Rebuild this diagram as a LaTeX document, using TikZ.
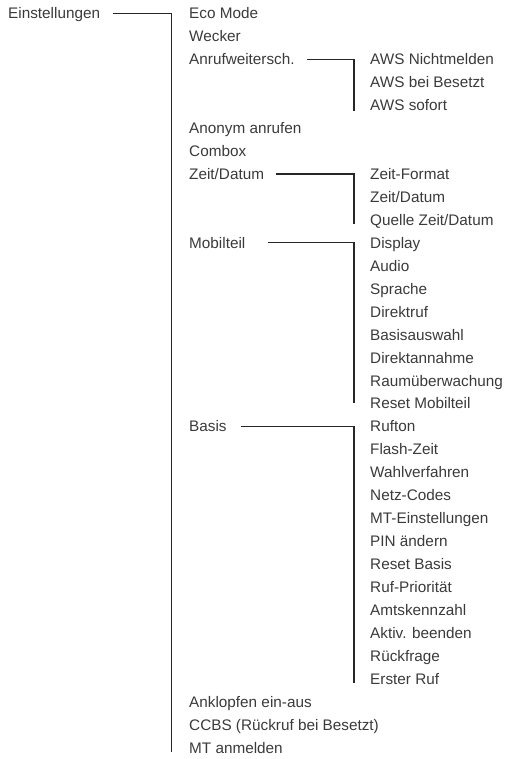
\documentclass[tikz,border=0pt]{standalone}
\usepackage{fontspec}
\setmainfont{Liberation Sans}
\definecolor{menutext}{HTML}{3A3A3A}
\begin{document}
\begin{tikzpicture}[x=1pt,y=-22.95pt,
	menu/.style={anchor=west,inner sep=0,text height=11pt,text depth=0pt,text=menutext,font=\fontsize{15.3}{18}\selectfont},
	branch/.style={line width=1.1pt,draw=black!85}]
		\useasboundingbox (0,-0.58) rectangle (510,32.49);
		% root
		\node[menu] (einst) at (8,0) {Einstellungen};
		% first level
		\node[menu] (eco) at (189,0) {Eco Mode};
		\node[menu] (wecker) at (189,1) {Wecker};
		\node[menu] (anruf) at (189,2) {Anrufweitersch.};
		\node[menu] (anonym) at (189,5) {Anonym anrufen};
		\node[menu] (combox) at (189,6) {Combox};
		\node[menu] (zeit) at (189,7) {Zeit/Datum};
		\node[menu] (mobil) at (189,10) {Mobilteil};
		\node[menu] (basis) at (189,18) {Basis};
		\node[menu] (anklopf) at (189,30) {Anklopfen ein-aus};
		\node[menu] (ccbs) at (189,31) {CCBS (Rückruf bei Besetzt)};
		\node[menu] (mtanm) at (189,32) {MT anmelden};
		% second level: Anrufweitersch.
		\node[menu] (awsn) at (370,2) {AWS Nichtmelden};
		\node[menu] (awsb) at (370,3) {AWS bei Besetzt};
		\node[menu] (awss) at (370,4) {AWS sofort};
		% second level: Zeit/Datum
		\node[menu] (zformat) at (370,7) {Zeit-Format};
		\node[menu] (zdatum) at (370,8) {Zeit/Datum};
		\node[menu] (zquelle) at (370,9) {Quelle Zeit/Datum};
		% second level: Mobilteil
		\node[menu] (display) at (370,10) {Display};
		\node[menu] (audio) at (370,11) {Audio};
		\node[menu] (sprache) at (370,12) {Sprache};
		\node[menu] (direktruf) at (370,13) {Direktruf};
		\node[menu] (basisausw) at (370,14) {Basisauswahl};
		\node[menu] (direktann) at (370,15) {Direktannahme};
		\node[menu] (raum) at (370,16) {Raumüberwachung};
		\node[menu] (resetmt) at (370,17) {Reset Mobilteil};
		% second level: Basis
		\node[menu] (rufton) at (370,18) {Rufton};
		\node[menu] (flash) at (370,19) {Flash-Zeit};
		\node[menu] (wahl) at (370,20) {Wahlverfahren};
		\node[menu] (netz) at (370,21) {Netz-Codes};
		\node[menu] (mteinst) at (370,22) {MT-Einstellungen};
		\node[menu] (pin) at (370,23) {PIN ändern};
		\node[menu] (resetb) at (370,24) {Reset Basis};
		\node[menu] (rufprio) at (370,25) {Ruf-Priorität};
		\node[menu] (amts) at (370,26) {Amtskennzahl};
		\node[menu] (aktiv) at (370,27) {Aktiv. beenden};
		\node[menu] (rueck) at (370,28) {Rückfrage};
		\node[menu] (erster) at (370,29) {Erster Ruf};
		% branch ends
		\coordinate (einst-end) at (171.5,32.2);
		\coordinate (anruf-end) at (354,4.25);
		\coordinate (zeit-end) at (354,9.18);
		\coordinate (mobil-end) at (354,17);
		\coordinate (basis-end) at (354,29.2);
		\draw[branch] ([xshift=13pt]einst.east) -| (einst-end);
		\draw[branch] ([xshift=12.6pt]anruf.east) -| (anruf-end);
		\draw[branch] ([xshift=12pt]zeit.east) -| (zeit-end);
		\draw[branch] ([xshift=22pt]mobil.east) -| (mobil-end);
		\draw[branch] ([xshift=14.6pt]basis.east) -| (basis-end);
	\end{tikzpicture}
\end{document}
